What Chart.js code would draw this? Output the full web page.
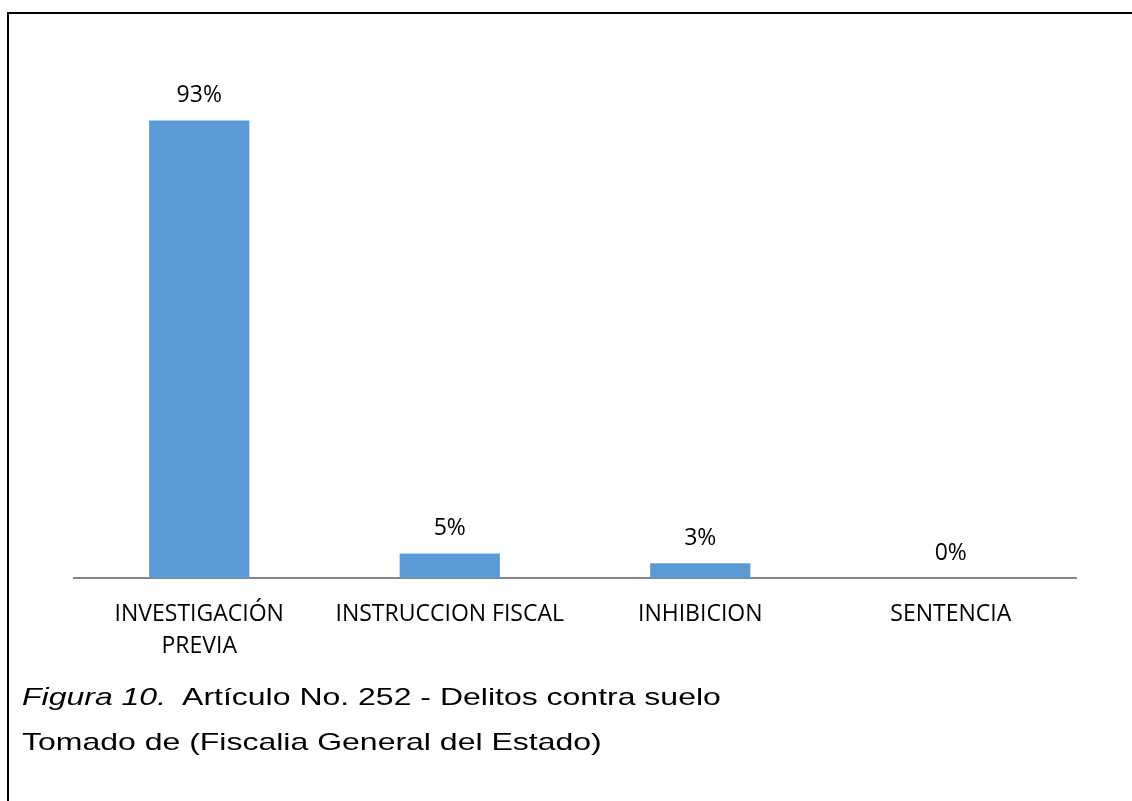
<!DOCTYPE html>
<html lang="es">
<head>
<meta charset="utf-8">
<title>Artículo No. 252 - Delitos contra suelo</title>
<script src="https://cdn.jsdelivr.net/npm/chart.js@4.4.1/dist/chart.umd.min.js"></script>
<style>
  html, body { margin: 0; padding: 0; background: #fff; }
  body { width: 1132px; height: 801px; position: relative; overflow: hidden; }
  #frame {
    position: absolute; left: 7px; top: 12px; right: 0; bottom: 0;
    border-top: 2px solid #000; border-left: 2px solid #000;
  }
  #chart { position: absolute; left: 0; top: 0; }
  .caption {
    position: absolute; left: 22px; margin: 0;
    font-family: "Liberation Sans", Arial, sans-serif;
    font-size: 24px; line-height: 24px; color: #000; white-space: pre;
    transform: scaleX(1.333); transform-origin: 0 0;
  }
  .caption em { font-style: italic; }
</style>
</head>
<body>
<div id="frame"></div>
<canvas id="chart" width="1132" height="801"></canvas>
<p class="caption" style="top:685px"><em>Figura 10.</em>  Artículo No. 252 - Delitos contra suelo</p>
<p class="caption" style="top:730px">Tomado de (Fiscalia General del Estado)</p>
<script>
// Categories and their share of cases (percent)
const categories = [
  ["INVESTIGACIÓN", "PREVIA"],
  "INSTRUCCION FISCAL",
  "INHIBICION",
  "SENTENCIA"
];
const percentages = [93, 5, 3, 0];
const valueLabels = ["93%", "5%", "3%", "0%"];

const labelFont = '"Open Sans", "Noto Sans", sans-serif';

// Writes each bar's percentage just above it
const barValueLabels = {
  id: 'barValueLabels',
  afterDatasetsDraw(chart) {
    const ctx = chart.ctx;
    const meta = chart.getDatasetMeta(0);
    ctx.save();
    ctx.font = '23px ' + labelFont;
    ctx.fillStyle = '#000';
    ctx.textAlign = 'center';
    ctx.textBaseline = 'alphabetic';
    meta.data.forEach((bar, i) => {
      ctx.fillText(valueLabels[i], bar.x, bar.y - 18);
    });
    ctx.restore();
  }
};

function draw() {
  new Chart(document.getElementById('chart'), {
    type: 'bar',
    data: {
      labels: categories,
      datasets: [{
        data: percentages,
        backgroundColor: '#5B9BD5',
        borderWidth: 0,
        barPercentage: 0.4,
        categoryPercentage: 1.0
      }]
    },
    options: {
      responsive: false,
      animation: false,
      events: [],
      layout: { padding: { left: 74, right: 56, top: 86, bottom: 0 } },
      plugins: {
        legend: { display: false },
        tooltip: { enabled: false },
        title: { display: false }
      },
      scales: {
        x: {
          grid: { display: false, drawTicks: false },
          border: { display: true, color: '#868686', width: 2 },
          ticks: {
            color: '#000',
            padding: 21,
            maxRotation: 0,
            autoSkip: false,
            font: { family: labelFont, size: 23, lineHeight: 1.38 }
          },
          afterFit(scale) { scale.height = 223; }
        },
        y: {
          display: false,
          min: 0,
          max: 100
        }
      }
    },
    plugins: [barValueLabels]
  });
}

if (document.fonts && document.fonts.load) {
  document.fonts.load('23px "Open Sans"').then(draw, draw);
} else {
  draw();
}
</script>
</body>
</html>
